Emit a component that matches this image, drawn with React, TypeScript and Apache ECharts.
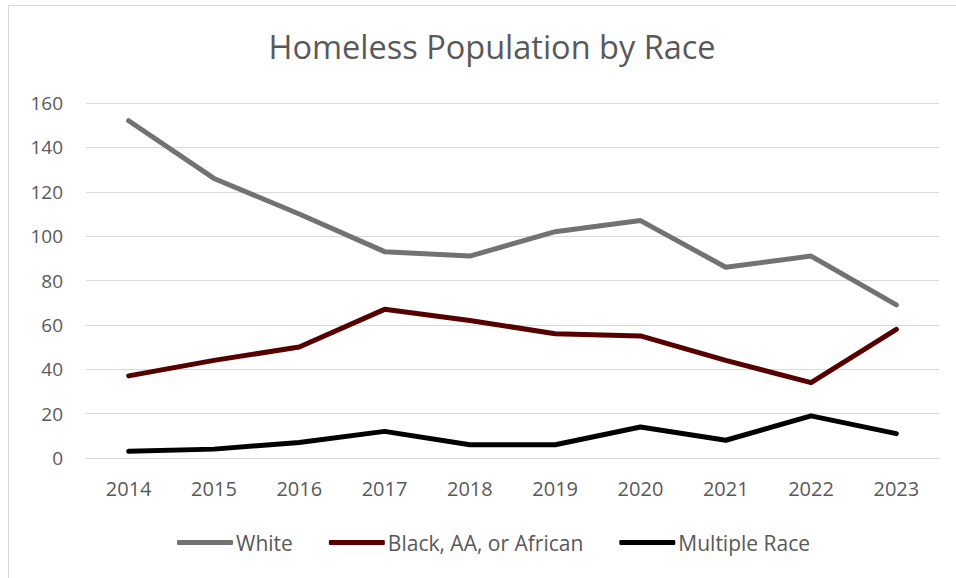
import React, { useEffect, useRef } from "react";
import * as echarts from "echarts";

const years = ["2014", "2015", "2016", "2017", "2018", "2019", "2020", "2021", "2022", "2023"];
const white = [152, 126, 110, 93, 91, 102, 107, 86, 91, 69];
const black = [37, 44, 50, 67, 62, 56, 55, 44, 34, 58];
const multiple = [3, 4, 7, 12, 6, 6, 14, 8, 19, 11];
const yTicks = [0, 20, 40, 60, 80, 100, 120, 140, 160];

const FONT = "'Open Sans', 'Noto Sans', sans-serif";

export default function App() {
  const ref = useRef<HTMLDivElement>(null);
  useEffect(() => {
    if (!ref.current) return;
    const chart = echarts.init(ref.current, undefined, { renderer: "svg" });
    const mk = (name: string, data: number[], color: string) => ({
      name,
      type: "line",
      data,
      symbol: "none",
      lineStyle: { color, width: 5, cap: "round", join: "round" },
      itemStyle: { color },
    });
    chart.setOption({
      animation: false,
      backgroundColor: "#ffffff",
      title: {
        text: "Homeless Population by Race",
        left: 487,
        top: 25,
        textAlign: "center",
        textStyle: { fontFamily: FONT, fontSize: 32.5, fontWeight: "normal", color: "#595959" },
      },
      graphic: [
        {
          type: "rect",
          shape: { x: 8.5, y: 5.5, width: 1000, height: 700 },
          style: { fill: "none", stroke: "#d9d9d9", lineWidth: 1 },
          silent: true,
        },
      ],
      grid: { left: 86, right: 17, top: 103, bottom: 120 },
      xAxis: {
        type: "category",
        data: years,
        boundaryGap: true,
        axisLine: { show: true, lineStyle: { color: "#d9d9d9", width: 1 } },
        axisTick: { show: false },
        axisLabel: { fontFamily: FONT, fontSize: 20, color: "#595959", margin: 20 },
      },
      yAxis: {
        type: "value",
        min: yTicks[0],
        max: yTicks[yTicks.length - 1],
        interval: 20,
        axisLine: { show: false },
        axisTick: { show: false },
        splitLine: { lineStyle: { color: "#d9d9d9", width: 1 } },
        axisLabel: { fontFamily: FONT, fontSize: 19, color: "#595959", margin: 23 },
      },
      legend: {
        left: 172,
        top: 527,
        orient: "horizontal",
        itemWidth: 56,
        itemHeight: 5,
        itemGap: 36,
        icon: "roundRect",
        textStyle: { fontFamily: FONT, fontSize: 21, color: "#595959", padding: [0, 0, 0, -2] },
        data: ["White", "Black, AA, or African", "Multiple Race"],
      },
      series: [
        mk("White", white, "#727272"),
        mk("Black, AA, or African", black, "#560000"),
        mk("Multiple Race", multiple, "#000000"),
      ],
    });
    return () => chart.dispose();
  }, []);
  return (
    <div
      ref={ref}
      style={{ position: "fixed", left: 0, top: 0, width: 956, height: 578 }}
    />
  );
}
